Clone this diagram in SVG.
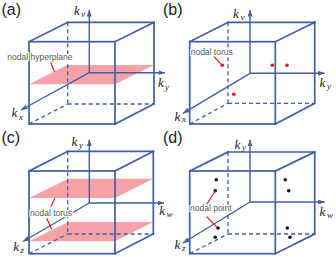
<svg xmlns="http://www.w3.org/2000/svg" width="336" height="257" viewBox="0 0 336 257">
<style>
.e{stroke:#3F5FA6;stroke-width:1.7;fill:none;stroke-linecap:square}
.d{stroke:#3F5FA6;stroke-width:1.3;fill:none;stroke-dasharray:4 3}
.ax{stroke:#3F5FA6;stroke-width:1.4;fill:none;marker-end:url(#ah)}
.pl{fill:#F7A2A7;stroke:none}
.dr{fill:#E8141C}
.db{fill:#111}
.ptr{stroke:#E8141C;stroke-width:1.2;fill:none}
.k{font-family:"Liberation Serif",serif;font-style:italic;font-size:13px;fill:#1a1a1a}
.s{font-family:"Liberation Serif",serif;font-style:italic;font-size:9px;fill:#1a1a1a}
.lb{font-family:"Liberation Sans",sans-serif;font-size:8.5px;fill:#5a5a5a;stroke:#fff;stroke-width:2.5;paint-order:stroke;stroke-linejoin:round}
.pn{font-family:"Liberation Sans",sans-serif;font-size:16px;fill:#222}
</style>
<defs>
<marker id="ah" markerUnits="userSpaceOnUse" markerWidth="7" markerHeight="6" refX="6.5" refY="2.5" orient="auto">
<path d="M0,0 L6.5,2.5 L0,5 z" fill="#3F5FA6"/>
</marker>
</defs>

<g id="panel-a">
<text class="pn" x="1.5" y="15">(a)</text>
<polygon class="pl" points="29,84.3 115,84.3 154,65 67,65"/>
<line class="d" x1="67.7" y1="22.3" x2="67.7" y2="104"/>
<line class="d" x1="67.7" y1="104" x2="154" y2="104"/>
<line class="d" x1="29" y1="124" x2="67.7" y2="104"/>
<line class="e" x1="67.7" y1="22.3" x2="154" y2="22.3"/>
<line class="e" x1="154" y1="22.3" x2="154" y2="104"/>
<line class="e" x1="29" y1="41.7" x2="67.7" y2="22.3"/>
<line class="e" x1="115" y1="41.7" x2="154" y2="22.3"/>
<line class="e" x1="115" y1="124" x2="154" y2="104"/>
<rect class="e" x="29" y="41.7" width="86" height="82.3"/>
<line class="ax" x1="89.3" y1="72.7" x2="89.3" y2="10"/>
<line class="ax" x1="89.3" y1="72.7" x2="165" y2="72.7"/>
<line class="ax" x1="89.3" y1="72.7" x2="21" y2="110"/>
<text class="k" x="74" y="15">k</text><text class="s" x="81" y="16.5">v</text>
<text class="k" x="158" y="87">k</text><text class="s" x="165" y="90">y</text>
<text class="k" x="11.5" y="117">k</text><text class="s" x="19" y="120">x</text>
<text class="lb" x="7.3" y="60">nodal hyperplane</text>
</g>

<g id="panel-b">
<text class="pn" x="163" y="15">(b)</text>
<line class="d" x1="228" y1="22.3" x2="228" y2="103.3"/>
<line class="d" x1="228" y1="103.3" x2="314.7" y2="103.3"/>
<line class="d" x1="189.7" y1="124" x2="228" y2="103.3"/>
<line class="e" x1="228" y1="22.3" x2="314.7" y2="22.3"/>
<line class="e" x1="314.7" y1="22.3" x2="314.7" y2="103.3"/>
<line class="e" x1="189.7" y1="41.7" x2="228" y2="22.3"/>
<line class="e" x1="275.3" y1="41.7" x2="314.7" y2="22.3"/>
<line class="e" x1="275.3" y1="124" x2="314.7" y2="103.3"/>
<rect class="e" x="189.7" y="41.7" width="85.6" height="82.3"/>
<line class="ax" x1="250" y1="73.3" x2="250" y2="10"/>
<line class="ax" x1="250" y1="73.3" x2="324.7" y2="73.3"/>
<line class="ax" x1="250" y1="73.3" x2="183" y2="113.3"/>
<circle class="dr" cx="222.3" cy="65.3" r="1.8"/>
<circle class="dr" cx="272.3" cy="65.3" r="1.8"/>
<circle class="dr" cx="287" cy="65.3" r="1.8"/>
<circle class="dr" cx="233.7" cy="94.3" r="1.8"/>
<text class="k" x="233" y="18">k</text><text class="s" x="240.5" y="19.5">v</text>
<text class="k" x="319.5" y="87">k</text><text class="s" x="327" y="88.5">y</text>
<text class="k" x="174.5" y="120.5">k</text><text class="s" x="182" y="122">x</text>
<text class="lb" x="190.7" y="55">nodal torus</text>
</g>

<g id="panel-c">
<text class="pn" x="1.5" y="143">(c)</text>
<polygon class="pl" points="29,198 115,198 153.3,178.7 68.3,178.7"/>
<polygon class="pl" points="29,241.3 115,241.3 153.3,222 68.3,222"/>
<line class="d" x1="67.7" y1="151.3" x2="67.7" y2="234"/>
<line class="d" x1="67.7" y1="234" x2="153.3" y2="234"/>
<line class="d" x1="29" y1="253.7" x2="67.7" y2="234"/>
<line class="e" x1="67.7" y1="151.3" x2="153.3" y2="151.3"/>
<line class="e" x1="153.3" y1="151.3" x2="153.3" y2="234"/>
<line class="e" x1="29" y1="171" x2="67.7" y2="151.3"/>
<line class="e" x1="115" y1="171" x2="153.3" y2="151.3"/>
<line class="e" x1="115" y1="253.7" x2="153.3" y2="234"/>
<rect class="e" x="29" y="171" width="86" height="82.7"/>
<line class="ax" x1="89.3" y1="203" x2="89.3" y2="139.7"/>
<line class="ax" x1="89.3" y1="203" x2="164" y2="203"/>
<line class="ax" x1="89.3" y1="203" x2="23" y2="241.5"/>
<text class="k" x="71.5" y="146">k</text><text class="s" x="79" y="148">y</text>
<text class="k" x="159.3" y="215">k</text><text class="s" x="166.5" y="217">w</text>
<text class="k" x="13.3" y="250.5">k</text><text class="s" x="20.5" y="253">z</text>
<text class="lb" x="30" y="216">nodal torus</text>
</g>

<g id="panel-d">
<text class="pn" x="163" y="143">(d)</text>
<line class="d" x1="228" y1="152" x2="228" y2="234"/>
<line class="d" x1="228" y1="234" x2="314.7" y2="234"/>
<line class="d" x1="189.7" y1="253.7" x2="228" y2="234"/>
<line class="e" x1="228" y1="152" x2="314.7" y2="152"/>
<line class="e" x1="314.7" y1="152" x2="314.7" y2="234"/>
<line class="e" x1="189.7" y1="171" x2="228" y2="152"/>
<line class="e" x1="275.3" y1="171" x2="314.7" y2="152"/>
<line class="e" x1="275.3" y1="253.7" x2="314.7" y2="234"/>
<rect class="e" x="189.7" y="171" width="85.6" height="82.7"/>
<line class="ax" x1="250" y1="202" x2="250" y2="139.7"/>
<line class="ax" x1="250" y1="202" x2="324.7" y2="202"/>
<line class="ax" x1="250" y1="202" x2="183" y2="243"/>
<circle class="db" cx="216.3" cy="179.7" r="1.8"/>
<circle class="db" cx="215.3" cy="190.7" r="1.8"/>
<circle class="db" cx="218" cy="228" r="1.8"/>
<circle class="db" cx="215.3" cy="237.3" r="1.8"/>
<circle class="db" cx="285.3" cy="179.7" r="1.8"/>
<circle class="db" cx="288.7" cy="190.7" r="1.8"/>
<circle class="db" cx="287.3" cy="228" r="1.8"/>
<circle class="db" cx="290" cy="237.3" r="1.8"/>
<text class="k" x="234.5" y="148.5">k</text><text class="s" x="242" y="150">y</text>
<text class="k" x="319.5" y="216">k</text><text class="s" x="327" y="218">w</text>
<text class="k" x="174.5" y="248.5">k</text><text class="s" x="182" y="251">z</text>
<text class="lb" x="190" y="211">nodal point</text>
</g>

<g id="connectors">
<line class="ptr" x1="50.7" y1="62.3" x2="54.5" y2="71.7"/>
<line class="ptr" x1="214" y1="56.7" x2="222.3" y2="65.3"/>
<line class="ptr" x1="50.7" y1="206.7" x2="55" y2="198.3"/>
<line class="ptr" x1="46.7" y1="218.3" x2="51.7" y2="229.3"/>
<line class="ptr" x1="215.3" y1="190.7" x2="206.7" y2="204.3"/>
<line class="ptr" x1="206.7" y1="216.7" x2="217.3" y2="227.7"/>
</g>
</svg>
